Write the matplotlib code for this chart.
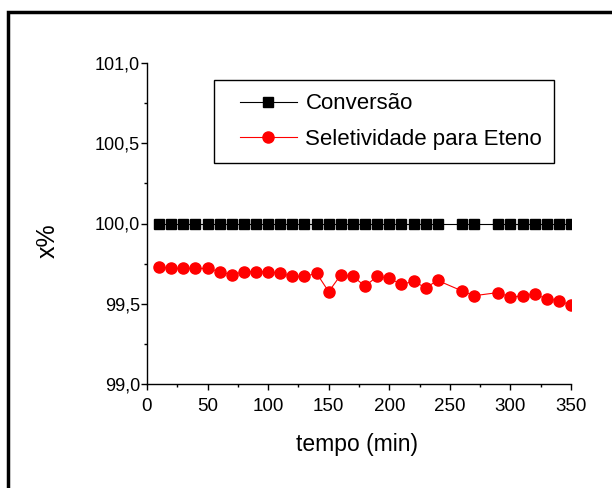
import matplotlib
matplotlib.use("Agg")
import matplotlib.pyplot as plt
from matplotlib.patches import Rectangle
from matplotlib.ticker import MultipleLocator, FuncFormatter

plt.rcParams['font.family'] = ['Liberation Sans', 'DejaVu Sans']

# dados (tempo em min, valores em %)
tempo = [10, 20, 30, 40, 50, 60, 70, 80, 90, 100, 110, 120, 130, 140, 150,
         160, 170, 180, 190, 200, 210, 220, 230, 240, 260, 270, 290, 300,
         310, 320, 330, 340, 350]
conversao = [100.0] * len(tempo)
seletividade = [99.73, 99.72, 99.72, 99.72, 99.72, 99.70, 99.68, 99.70, 99.70,
                99.70, 99.69, 99.67, 99.67, 99.69, 99.575, 99.68, 99.67, 99.61,
                99.67, 99.66, 99.62, 99.64, 99.60, 99.645, 99.58, 99.55, 99.57,
                99.54, 99.55, 99.56, 99.53, 99.52, 99.49]

fig = plt.figure(figsize=(6.12, 4.88), dpi=100)
ax = fig.add_axes([147/612, 1-384/488, 424/612, 321/488])

ax.plot(tempo, conversao, '-s', color='black', lw=0.8, ms=7, label='Conversão')
ax.plot(tempo, seletividade, '-o', color='red', lw=0.8, ms=8, label='Seletividade para Eteno')

ax.set_xlim(0, 350)
ax.set_ylim(99.0, 101.0)
ax.xaxis.set_major_locator(MultipleLocator(50))
ax.xaxis.set_minor_locator(MultipleLocator(25))
ax.yaxis.set_major_locator(MultipleLocator(0.5))
ax.yaxis.set_minor_locator(MultipleLocator(0.25))
ax.yaxis.set_major_formatter(FuncFormatter(lambda v, p: f"{v:.1f}".replace('.', ',')))

for s in ['top', 'right']:
    ax.spines[s].set_visible(False)
for s in ['left', 'bottom']:
    ax.spines[s].set_linewidth(1.0)

ax.tick_params(which='major', direction='out', length=4, width=1, labelsize=13)
ax.tick_params(which='minor', direction='out', length=2.5, width=1)
ax.tick_params(axis='x', which='major', pad=6, labelsize=13.5)
ax.tick_params(axis='y', which='major', pad=1)

ax.set_xlabel('tempo (min)', fontsize=16.5)
ax.xaxis.set_label_coords(0.495, -0.152)
ax.set_ylabel('x%', fontsize=18)
ax.yaxis.set_label_coords(-0.207, 0.447)

# legenda sem moldura + caixa desenhada à parte
ax.legend(loc='upper left', bbox_to_anchor=(0.219, 0.905), fontsize=16,
          frameon=False, handlelength=2.55, handletextpad=0.4,
          labelspacing=0.65, borderpad=0, borderaxespad=0)
ax.add_patch(Rectangle((0.158, 0.688), 0.802, 0.259, transform=ax.transAxes,
                       fill=False, edgecolor='black', lw=1.0, clip_on=False))

# moldura da figura
fig.patches.append(Rectangle((8/612, -0.1), 1.2, 1.1 - 12.5/488,
                             transform=fig.transFigure, fill=False,
                             edgecolor='black', lw=2.5, clip_on=False))

fig.savefig('out.png', dpi=100)
